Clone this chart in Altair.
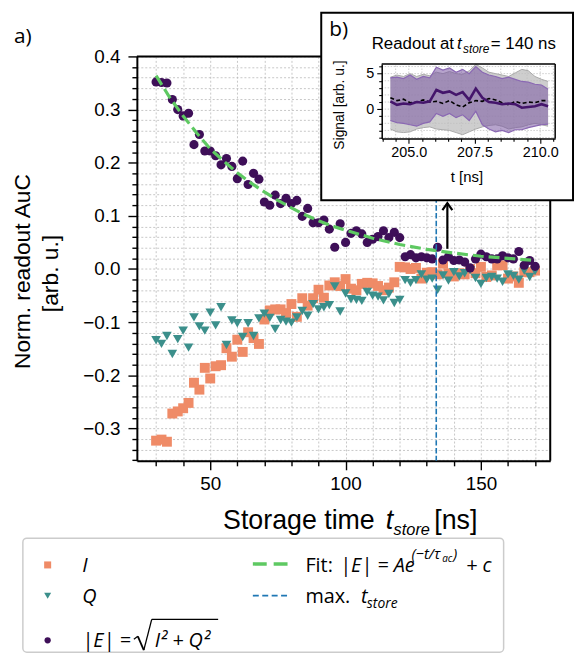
import altair as alt
import pandas as pd

# ---------------- main panel data ----------------
t_store = [30, 32, 34, 36, 38, 40, 42, 44, 46, 48,
           50, 52, 54, 56, 58, 60, 62, 64, 66, 68,
           70, 72, 74, 76, 78, 80, 82, 84, 86, 88,
           90, 92, 94, 96, 98, 100, 102, 104, 106, 108,
           110, 112, 114, 116, 118, 120, 122, 124, 126, 128,
           130, 132, 134, 136, 138, 140, 142, 144, 146, 148,
           150, 152, 154, 156, 158, 160, 162, 164, 166, 168, 170]
I_vals = [-0.323, -0.321, -0.325, -0.272, -0.268, -0.262, -0.252, -0.214, -0.227, -0.186,
          -0.206, -0.183, -0.181, -0.149, -0.165, -0.133, -0.156, -0.119, -0.130, -0.141,
          -0.095, -0.078, -0.076, -0.076, -0.083, -0.066, -0.090, -0.055, -0.069, -0.055,
          -0.039, -0.054, -0.031, -0.025, -0.032, -0.019, -0.037, -0.040, -0.028, -0.026,
          -0.027, -0.032, -0.040, -0.035, -0.025, 0.004, 0.003, 0.000, 0.002, -0.018,
          -0.007, -0.006, -0.010, 0.010, -0.008, -0.014, -0.008, -0.010, 0.000, -0.008,
          0.004, -0.015, -0.012, 0.007, 0.007, -0.018, -0.014, -0.026, -0.006, -0.006, -0.003]
Q_vals = [-0.134, -0.141, -0.126, -0.160, -0.132, -0.116, -0.148, -0.091, -0.108, -0.116,
          -0.082, -0.106, -0.072, -0.143, -0.097, -0.102, -0.128, -0.102, -0.126, -0.093,
          -0.084, -0.092, -0.113, -0.096, -0.099, -0.101, -0.091, -0.079, -0.088, -0.066,
          -0.076, -0.072, -0.068, -0.033, -0.080, -0.046, -0.057, -0.058, -0.060, -0.043,
          -0.050, -0.052, -0.059, -0.047, -0.064, -0.058, -0.021, -0.026, -0.021, -0.010,
          -0.020, -0.018, -0.039, -0.012, -0.022, -0.006, -0.014, -0.008, -0.002, -0.017,
          -0.028, -0.017, -0.015, -0.018, -0.024, -0.010, -0.013, -0.020, -0.003, -0.015, -0.004]
E_vals = [0.352, 0.351, 0.350, 0.319, 0.300, 0.288, 0.293, 0.234, 0.253, 0.222,
          0.222, 0.213, 0.196, 0.208, 0.193, 0.170, 0.203, 0.159, 0.180, 0.169,
          0.126, 0.120, 0.139, 0.123, 0.133, 0.123, 0.129, 0.099, 0.114, 0.087,
          0.087, 0.092, 0.075, 0.041, 0.085, 0.050, 0.067, 0.072, 0.066, 0.050,
          0.056, 0.061, 0.072, 0.059, 0.069, 0.059, 0.023, 0.027, 0.021, 0.023,
          0.021, 0.019, 0.041, 0.017, 0.023, 0.016, 0.017, 0.013, 0.002, 0.019,
          0.028, 0.023, 0.019, 0.019, 0.025, 0.021, 0.019, 0.033, 0.007, 0.016, 0.005]
fit_t = [30, 35, 40, 45, 50, 55, 60, 65, 70, 75, 80, 85, 90, 95, 100,
         110, 120, 130, 140, 150, 160, 170]
fit_vals = [0.364, 0.323, 0.288, 0.256, 0.226, 0.203, 0.181, 0.162, 0.145, 0.129,
            0.115, 0.102, 0.091, 0.081, 0.073, 0.058, 0.046, 0.037, 0.030, 0.024,
            0.020, 0.016]
t_max = 133.5
arrow_t = [137.6]
arrow_from = [0.038]
arrow_to = [0.124]

x_ticks = [30, 40, 50, 60, 70, 80, 90, 100, 110, 120, 130, 140, 150, 160, 170]
y_ticks = [-0.36, -0.34, -0.32, -0.30, -0.28, -0.26, -0.24, -0.22, -0.20, -0.18,
           -0.16, -0.14, -0.12, -0.10, -0.08, -0.06, -0.04, -0.02, 0.0, 0.02,
           0.04, 0.06, 0.08, 0.10, 0.12, 0.14, 0.16, 0.18, 0.20, 0.22,
           0.24, 0.26, 0.28, 0.30, 0.32, 0.34, 0.36, 0.38, 0.40]
x_dom = [22.9, 175.6]
y_dom = [-0.361, 0.4]

# ---------------- inset data ----------------
ti = [204.3, 204.55, 204.8, 205.05, 205.3, 205.55, 205.8, 206.05, 206.3, 206.55,
      206.8, 207.05, 207.3, 207.55, 207.8, 208.05, 208.3, 208.55, 208.8, 209.05,
      209.3, 209.55, 209.8, 210.05, 210.3]
sig_mean = [1.1, 0.6, 0.8, 0.7, 1.0, 0.9, 1.1, 2.7, 2.3, 2.5,
            2.0, 2.4, 1.3, 2.9, 1.6, 1.0, 0.9, 0.7, 0.8, 0.7,
            0.2, 0.3, 0.4, 0.7, 0.4]
sig_hi = [4.4, 4.5, 4.3, 4.8, 4.2, 4.6, 4.4, 5.9, 5.5, 5.8,
          5.2, 5.6, 5.0, 6.0, 5.2, 4.8, 4.6, 4.3, 4.5, 4.2,
          3.9, 3.8, 3.5, 3.4, 2.8]
sig_lo = [-1.6, -1.9, -2.0, -2.2, -2.4, -2.0, -1.8, -0.6, -1.0, -0.6,
          -1.2, -0.8, -1.6, -0.3, -2.2, -2.8, -3.2, -3.0, -3.3, -2.9,
          -2.9, -2.6, -2.4, -2.2, -2.1]
ref_mean = [1.6, 1.2, 1.4, 0.9, 1.0, 1.3, 1.0, 1.1, 0.8, 1.2,
            0.6, 0.3, 0.9, 1.2, 1.1, 1.5, 1.3, 0.9, 0.6, 1.1,
            0.8, 1.0, 0.9, 1.2, 1.2]
ref_hi = [4.5, 4.8, 4.6, 5.0, 4.6, 4.9, 4.7, 5.2, 5.0, 5.3,
          5.0, 4.9, 5.4, 6.3, 5.8, 5.2, 5.0, 4.8, 4.6, 5.1,
          5.6, 5.4, 4.6, 4.2, 3.9]
ref_lo = [-2.8, -3.2, -3.3, -3.2, -2.8, -2.6, -2.5, -2.8, -2.9, -3.0,
          -3.3, -3.6, -3.2, -2.8, -2.5, -2.3, -2.2, -2.4, -2.8, -2.6,
          -2.5, -2.2, -2.0, -2.2, -2.4]
xi_ticks = [204.0, 204.5, 205.0, 205.5, 206.0, 206.5, 207.0, 207.5, 208.0,
            208.5, 209.0, 209.5, 210.0, 210.5]
yi_ticks = [-4, -3, -2, -1, 0, 1, 2, 3, 4, 5, 6]
xi_dom = [203.97, 210.57]
yi_dom = [-4.12, 6.35]

# ---------------- styling ----------------
W, H = 417, 408
FA = "Liberation Sans"
FL = "Open Sans"
cI, cQ, cE = "#ef8b67", "#3b8f8b", "#3e0f58"
cFit, cMax = "#5ec962", "#1f77b4"
GRID = "#b8b8b8"

one = pd.DataFrame({"k": [0]})
df = pd.DataFrame({"t": t_store, "I": I_vals, "Q": Q_vals, "E": E_vals})
fit_df = pd.DataFrame({"t": fit_t, "E": fit_vals})
arrow_df = pd.DataFrame({"t": arrow_t, "y0": arrow_from, "y1": arrow_to})
inset_df = pd.DataFrame({"ti": ti, "sm": sig_mean, "shi": sig_hi, "slo": sig_lo,
                         "rm": ref_mean, "rhi": ref_hi, "rlo": ref_lo})

xs = alt.Scale(domain=x_dom, nice=False, zero=False)
ys = alt.Scale(domain=y_dom, nice=False, zero=False)
ax_x = alt.Axis(values=x_ticks, labelExpr="datum.value % 50 === 0 ? datum.label : ''",
                tickSize={"condition": {"test": "datum.value % 50 === 0", "value": 9}, "value": 5},
                tickWidth=1.4, tickColor="black", domainColor="black", domainWidth=2,
                grid=True, gridColor=GRID, gridDash=[2, 2], gridWidth=0.8,
                labelFont=FA, labelFontSize=19, labelColor="black", labelPadding=5,
                labelOverlap=False, labelFlush=False, title=None)
ax_y = alt.Axis(values=y_ticks,
                labelExpr="abs(round(datum.value*100)) % 10 === 0 ? format(datum.value, '.1f') : ''",
                tickSize={"condition": {"test": "abs(round(datum.value*100)) % 10 === 0", "value": 9}, "value": 5},
                tickWidth=1.4, tickColor="black", domainColor="black", domainWidth=2,
                grid=True, gridColor=GRID, gridDash=[2, 2], gridWidth=0.8,
                labelFont=FA, labelFontSize=19, labelColor="black", labelPadding=8,
                labelOverlap=False, labelFlush=False, title=None)


def X(f):
    return alt.X(f"{f}:Q", scale=xs, axis=ax_x)


def Y(f):
    return alt.Y(f"{f}:Q", scale=ys, axis=ax_y)


base = alt.Chart(df)
l_I = base.mark_square(size=100, color=cI, opacity=1).encode(x=X("t"), y=Y("I"))
l_Q = base.mark_point(shape="triangle-down", filled=True, size=95, color=cQ, opacity=1).encode(x=X("t"), y=Y("Q"))
l_E = base.mark_circle(size=85, color=cE, opacity=1).encode(x=X("t"), y=Y("E"))
l_fit = alt.Chart(fit_df).mark_line(color=cFit, strokeWidth=3.2, strokeDash=[11, 5]).encode(x=X("t"), y=Y("E"))
l_max = alt.Chart(one).mark_rule(color=cMax, strokeWidth=1.6, strokeDash=[5.5, 2.4]).encode(
    x=alt.XDatum(t_max, type="quantitative", scale=xs, axis=ax_x))
l_top = alt.Chart(one).mark_rule(color="black", strokeWidth=2).encode(
    y=alt.YDatum(y_dom[1], type="quantitative", scale=ys, axis=ax_y))
l_right = alt.Chart(one).mark_rule(color="black", strokeWidth=2).encode(
    x=alt.XDatum(x_dom[1], type="quantitative", scale=xs, axis=ax_x))
l_arrow = alt.Chart(arrow_df).mark_rule(color="black", strokeWidth=2.2).encode(
    x=X("t"), y=Y("y0"), y2=alt.Y2("y1:Q"))
l_head = alt.Chart(arrow_df).mark_point(shape="M -1 1.4 L 0 0 L 1 1.4", filled=False, size=100,
                                        stroke="black", strokeWidth=2.2, opacity=1).encode(x=X("t"), y=Y("y1"))

main = alt.layer(l_I, l_Q, l_E, l_fit, l_max, l_top, l_right, l_arrow, l_head)

# ---------------- inset ----------------
xsi = alt.Scale(domain=xi_dom, range=[247, 422], nice=False, zero=False)
ysi = alt.Scale(domain=yi_dom, range=[82.7, 7.7], nice=False, zero=False)
ax_xi = alt.Axis(orient="bottom", offset=82.7 - H, values=xi_ticks,
                 labelExpr="abs(round(datum.value*10)) % 25 === 0 ? format(datum.value, '.1f') : ''",
                 tickSize={"condition": {"test": "abs(round(datum.value*10)) % 25 === 0", "value": 5}, "value": 3},
                 tickWidth=1.1, tickColor="black", domainColor="black", domainWidth=1.5, grid=False,
                 labelFont=FA, labelFontSize=14.5, labelColor="black", labelPadding=2,
                 labelOverlap=False, labelFlush=False, title=None, zindex=1)
ax_yi = alt.Axis(orient="left", offset=-247, values=yi_ticks,
                 labelExpr="datum.value % 5 === 0 ? datum.label : ''",
                 tickSize={"condition": {"test": "datum.value % 5 === 0", "value": 5}, "value": 3},
                 tickWidth=1.1, tickColor="black", domainColor="black", domainWidth=1.5, grid=False,
                 labelFont=FA, labelFontSize=14.5, labelColor="black", labelPadding=3,
                 labelOverlap=False, labelFlush=False, title=None, zindex=1)


def XI(f):
    return alt.X(f"{f}:Q", scale=xsi, axis=ax_xi)


def YI(f):
    return alt.Y(f"{f}:Q", scale=ysi, axis=ax_yi)


box = alt.Chart(one).mark_rect(fill="white", stroke="black", strokeWidth=2).encode(
    x=alt.value(186), x2=alt.value(440), y=alt.value(-44), y2=alt.value(145))
gx = alt.Chart(pd.DataFrame({"g": xi_ticks})).mark_rule(color=GRID, strokeDash=[1.5, 1.5], strokeWidth=0.7).encode(
    x=XI("g"), y=alt.YDatum(yi_dom[0], type="quantitative", scale=ysi, axis=ax_yi), y2=alt.Y2Datum(yi_dom[1]))
gy = alt.Chart(pd.DataFrame({"g": yi_ticks})).mark_rule(color=GRID, strokeDash=[1.5, 1.5], strokeWidth=0.7).encode(
    y=YI("g"), x=alt.XDatum(xi_dom[0], type="quantitative", scale=xsi, axis=ax_xi), x2=alt.X2Datum(xi_dom[1]))
ib = alt.Chart(inset_df)
gray_band = ib.mark_area(color="#bdbdbd", opacity=0.75).encode(x=XI("ti"), y=YI("rlo"), y2=alt.Y2("rhi:Q"))
gray_lo = ib.mark_line(color="#a9a9a9", strokeWidth=1).encode(x=XI("ti"), y=YI("rlo"))
gray_hi = ib.mark_line(color="#a9a9a9", strokeWidth=1).encode(x=XI("ti"), y=YI("rhi"))
pur_band = ib.mark_area(color="#7a58a3", opacity=0.55).encode(x=XI("ti"), y=YI("slo"), y2=alt.Y2("shi:Q"))
pur_lo = ib.mark_line(color="#8a68b3", strokeWidth=1.2).encode(x=XI("ti"), y=YI("slo"))
pur_hi = ib.mark_line(color="#8a68b3", strokeWidth=1.2).encode(x=XI("ti"), y=YI("shi"))
ref_line = ib.mark_line(color="black", strokeWidth=1.6, strokeDash=[4, 2.5]).encode(x=XI("ti"), y=YI("rm"))
sig_line = ib.mark_line(color="#44156b", strokeWidth=2.6).encode(x=XI("ti"), y=YI("sm"))
i_top = alt.Chart(one).mark_rule(color="black", strokeWidth=1.5).encode(
    y=alt.YDatum(yi_dom[1], type="quantitative", scale=ysi, axis=ax_yi),
    x=alt.XDatum(xi_dom[0], type="quantitative", scale=xsi, axis=ax_xi), x2=alt.X2Datum(xi_dom[1]))
i_right = alt.Chart(one).mark_rule(color="black", strokeWidth=1.5).encode(
    x=alt.XDatum(xi_dom[1], type="quantitative", scale=xsi, axis=ax_xi),
    y=alt.YDatum(yi_dom[0], type="quantitative", scale=ysi, axis=ax_yi), y2=alt.Y2Datum(yi_dom[1]))


def T(s, x, y, size=19, font=FA, style="normal", align="left", baseline="alphabetic", angle=0):
    kw = dict(text=s, fontSize=size, font=font, fontStyle=style, align=align,
              baseline=baseline, color="black")
    if angle:
        kw["angle"] = angle
    return alt.Chart(one).mark_text(**kw).encode(x=alt.value(x), y=alt.value(y))


def seg(x1, y1, x2, y2, w=1.3):
    return alt.Chart(one).mark_rule(color="black", strokeWidth=w).encode(
        x=alt.value(x1), y=alt.value(y1), x2=alt.value(x2), y2=alt.value(y2))


texts = [
    T("a)", -124, -14, 21, FL),
    T("b)", 194, -21, 21, FL),
    T("Readout at", 320, -7.5, 17, align="right"),
    T("t", 323, -7.5, 17, style="italic"),
    T("store", 329, -3.5, 12, style="italic"),
    T("= 140 ns", 357, -7.5, 17),
    T("Signal [arb. u.]", 205, 49, 14, align="center", baseline="middle", angle=270),
    T("t [ns]", 333, 127, 15, align="center"),
    T("Storage time", 240, 477, 27, align="right"),
    T("t", 251, 477, 27, style="italic"),
    T("store", 259, 483, 16.5, style="italic"),
    T("[ns]", 300, 477, 27),
    T("Norm. readout AuC", -115, 217, 23, align="center", baseline="middle", angle=270),
    T("[arb. u.]", -87, 219, 23, align="center", baseline="middle", angle=270),
]

# legend (drawn by hand to keep the math labels)
leg_box = alt.Chart(one).mark_rect(fill="white", stroke="#cccccc", strokeWidth=1.5, cornerRadius=4).encode(
    x=alt.value(-115), x2=alt.value(370), y=alt.value(486), y2=alt.value(601))
leg = [
    alt.Chart(one).mark_square(size=50, color=cI, opacity=1).encode(x=alt.value(-90), y=alt.value(513)),
    alt.Chart(one).mark_point(shape="triangle-down", filled=True, size=50, color=cQ, opacity=1).encode(
        x=alt.value(-90), y=alt.value(544)),
    alt.Chart(one).mark_circle(size=40, color=cE, opacity=1).encode(x=alt.value(-90), y=alt.value(589)),
    alt.Chart(one).mark_rule(color=cFit, strokeWidth=3.5, strokeDash=[14, 7]).encode(
        x=alt.value(117), x2=alt.value(154), y=alt.value(512)),
    alt.Chart(one).mark_rule(color=cMax, strokeWidth=1.8, strokeDash=[6, 3.5]).encode(
        x=alt.value(117), x2=alt.value(154), y=alt.value(544)),
    T("I", -55, 520, 20, FL, "italic"),
    T("Q", -55, 551, 20, FL, "italic"),
    T("|E| =", -55, 596, 20, FL, "italic"),
    seg(-3, 588, 1, 585),
    seg(1, 585, 7, 599, 1.8),
    seg(7, 599, 15, 568),
    seg(15, 568, 82, 568),
    T("I\u00b2 + Q\u00b2", 18, 596, 20, FL, "italic"),
    T("Fit:", 170, 520, 20, FL),
    T("|E| = Ae", 205, 520, 20, FL, "italic"),
    T("(\u2212t/\u03c4", 277, 507, 15, FL, "italic"),
    T("ac", 308, 510, 10, FL, "italic"),
    T(")", 319, 507, 15, FL, "italic"),
    T("+ c", 332, 520, 20, FL, "italic"),
    T("max.", 170, 551, 20, FL),
    T("t", 226, 551, 20, FL, "italic"),
    T("store", 232, 556, 14, FL, "italic"),
]

inset = alt.layer(box, gx, gy, gray_band, gray_lo, gray_hi, pur_band, pur_lo, pur_hi,
                  ref_line, sig_line, i_top, i_right, *texts, leg_box, *leg)

chart = alt.layer(main, inset).resolve_scale(x="independent", y="independent").properties(
    width=W, height=H,
    autosize=alt.AutoSizeParams(type="none"),
    padding={"left": 130, "top": 46, "right": 25, "bottom": 191},
).configure_view(stroke=None).configure(background="white")

chart.save("out.html", embed_options={"renderer": "svg", "actions": False})
